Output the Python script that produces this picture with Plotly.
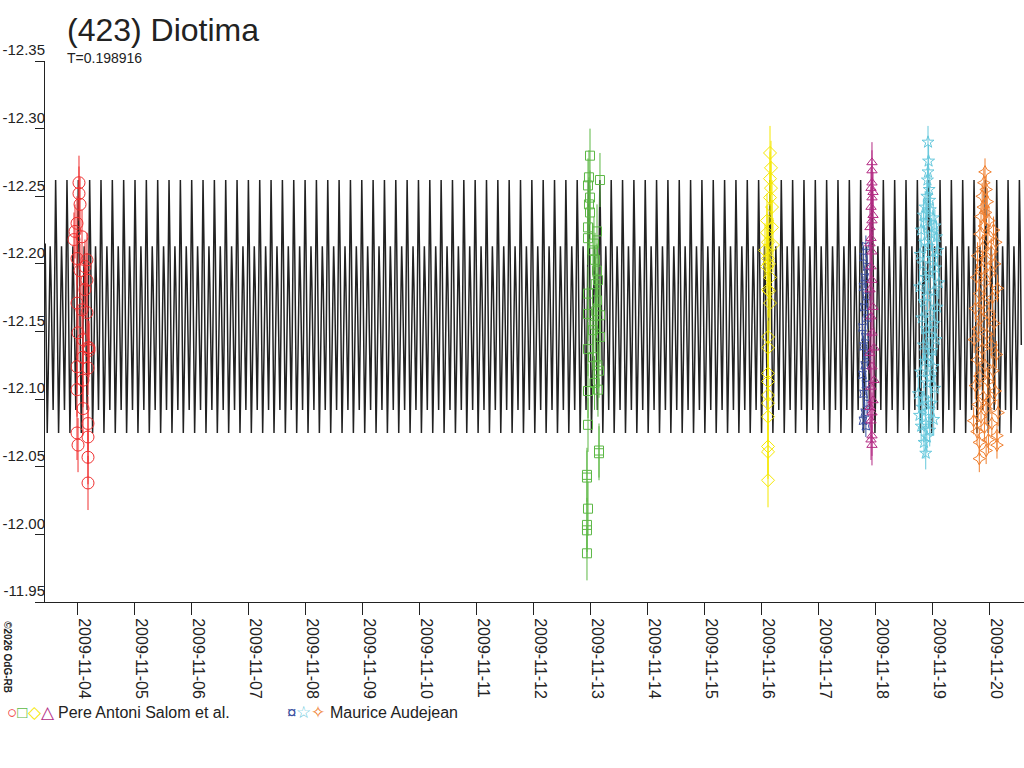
import numpy as np
import pandas as pd
import plotly.graph_objects as go

# lightcurve model: one rotation period, repeated over the run
PERIOD = 0.198916
EPOCH_DAY = 4.023  # day of Nov 2009 of a main maximum
CURVE_PHASE = [0.0, 0.08, 0.17, 0.26, 0.35, 0.44, 0.52, 0.60, 0.69, 0.78, 0.87, 0.94]
CURVE_MAG = [-12.262, -12.215, -12.140, -12.075, -12.120, -12.190,
             -12.213, -12.185, -12.120, -12.092, -12.150, -12.210]
CURVE_START, CURVE_END = 3.44, 20.57

# observations, time as day of November 2009
red_t = [4.035, 4.035, 4.053, 4.0, 3.965, 4.088, 3.947, 4.0, 4.175, 4.14, 4.053, 4.175, 4.14,
         4.0, 4.088, 4.175, 4.018, 4.105, 4.193, 4.105, 4.0, 4.193, 4.105, 4.0, 4.105, 4.193,
         4.0, 4.193, 4.018, 4.193, 4.193, 4.21, 4.21]
red_m = [-12.260, -12.252, -12.244, -12.230, -12.224, -12.220, -12.218, -12.204, -12.203,
         -12.198, -12.195, -12.188, -12.181, -12.171, -12.166, -12.164, -12.149, -12.144,
         -12.138, -12.131, -12.124, -12.123, -12.114, -12.107, -12.093, -12.082, -12.075,
         -12.072, -12.066, -12.057, -12.038, -12.138, -12.136]

green_t = [13.0, 12.982, 13.175, 12.965, 13.0, 12.982, 13.0, 12.965, 13.123, 12.965, 13.053,
           13.088, 13.123, 13.14, 12.965, 13.123, 13.175, 12.965, 13.053, 13.175, 12.965,
           13.053, 13.158, 12.965, 13.14, 12.965, 13.158, 13.158, 12.947, 12.947, 12.965,
           12.947, 12.947, 12.947, 13.07, 13.1, 13.11, 13.09, 13.13, 13.08]
green_m = [-12.280, -12.264, -12.262, -12.258, -12.249, -12.244, -12.238, -12.227, -12.224,
           -12.219, -12.210, -12.203, -12.195, -12.188, -12.178, -12.173, -12.162, -12.163,
           -12.151, -12.146, -12.137, -12.131, -12.121, -12.106, -12.107, -12.081, -12.062,
           -12.060, -12.044, -12.042, -12.019, -12.007, -12.003, -11.986, -12.215, -12.185,
           -12.165, -12.155, -12.125, -12.112]

yellow_t = [16.158, 16.175, 16.158, 16.175, 16.158, 16.193, 16.105, 16.193, 16.105, 16.123,
            16.21, 16.07, 16.123, 16.105, 16.158, 16.123, 16.158, 16.123, 16.123, 16.123,
            16.123, 16.123, 16.123, 16.123, 16.123, 16.123, 16.123, 16.14, 16.14]
yellow_m = [-12.282, -12.271, -12.263, -12.256, -12.249, -12.242, -12.232, -12.227, -12.223,
            -12.216, -12.214, -12.210, -12.204, -12.198, -12.190, -12.181, -12.171, -12.146,
            -12.138, -12.119, -12.113, -12.103, -12.097, -12.087, -12.065, -12.061, -12.040,
            -12.200, -12.180]

purple_t = [17.947, 17.947, 17.947, 17.93, 17.965, 17.947, 17.93, 17.965, 17.947, 17.912,
            17.93, 17.912, 17.947, 17.93, 17.947, 17.912, 17.965, 17.93, 17.947, 17.982,
            17.912, 17.947, 17.982, 17.93, 17.965, 17.912, 17.947, 17.93, 17.947, 17.93,
            17.947]
purple_m = [-12.275, -12.269, -12.260, -12.256, -12.253, -12.249, -12.242, -12.236, -12.232,
            -12.227, -12.219, -12.215, -12.209, -12.198, -12.188, -12.181, -12.168, -12.161,
            -12.149, -12.138, -12.134, -12.124, -12.114, -12.109, -12.099, -12.094, -12.090,
            -12.084, -12.073, -12.070, -12.066]

navy_t = [17.84, 17.80, 17.86, 17.82, 17.79, 17.85, 17.81, 17.87, 17.78, 17.83, 17.80, 17.86,
          17.82, 17.78, 17.84, 17.80, 17.86, 17.82, 17.79, 17.84]
navy_m = [-12.213, -12.205, -12.198, -12.190, -12.183, -12.176, -12.168, -12.160, -12.153,
          -12.146, -12.139, -12.132, -12.125, -12.118, -12.111, -12.104, -12.097, -12.090,
          -12.084, -12.080]

cyan_t = [18.93, 18.94, 18.93, 18.92, 18.95, 18.91, 18.96, 18.88, 18.97, 18.85, 19.02, 18.90,
          19.05, 18.81, 18.99, 19.08, 18.87, 18.94, 19.10, 18.79, 19.01, 18.84, 19.06, 18.96,
          18.89, 19.12, 18.78, 19.03, 18.92, 18.86, 19.09, 18.98, 18.82, 19.04, 18.90, 18.95,
          19.07, 18.85, 19.00, 18.93, 18.88, 19.02, 18.80, 18.97, 18.91, 19.05, 18.76, 18.86,
          18.99, 18.83, 18.94, 18.78, 19.03, 18.89, 18.81, 18.96, 18.91, 18.86, 18.89]
cyan_m = [-12.290, -12.276, -12.268, -12.262, -12.255, -12.250, -12.247, -12.242, -12.240,
          -12.236, -12.234, -12.231, -12.228, -12.225, -12.222, -12.220, -12.216, -12.213,
          -12.210, -12.207, -12.204, -12.200, -12.197, -12.193, -12.190, -12.186, -12.183,
          -12.180, -12.176, -12.172, -12.168, -12.164, -12.160, -12.156, -12.152, -12.148,
          -12.144, -12.140, -12.136, -12.132, -12.128, -12.124, -12.120, -12.116, -12.112,
          -12.108, -12.104, -12.100, -12.097, -12.094, -12.091, -12.088, -12.085, -12.082,
          -12.080, -12.077, -12.072, -12.068, -12.060]

orange_t = [19.93, 19.91, 19.95, 19.88, 19.97, 19.90, 19.94, 19.86, 20.00, 19.92, 20.08, 19.84,
            19.98, 20.12, 19.89, 20.04, 19.80, 19.95, 20.10, 19.87, 20.02, 19.78, 19.93, 20.15,
            19.83, 20.06, 19.90, 19.76, 20.00, 19.86, 20.09, 19.81, 19.96, 19.74, 20.04, 19.88,
            20.13, 19.79, 19.93, 20.07, 19.84, 19.98, 19.76, 20.11, 19.90, 20.02, 19.81, 19.95,
            20.16, 19.86, 19.73, 20.05, 19.92, 19.79, 20.14, 19.99, 19.83, 20.14, 19.95, 19.83]
orange_m = [-12.268, -12.260, -12.255, -12.250, -12.246, -12.242, -12.238, -12.235, -12.232,
            -12.228, -12.225, -12.222, -12.219, -12.216, -12.212, -12.209, -12.206, -12.203,
            -12.200, -12.196, -12.193, -12.190, -12.186, -12.182, -12.178, -12.175, -12.171,
            -12.167, -12.163, -12.160, -12.156, -12.152, -12.148, -12.144, -12.140, -12.137,
            -12.133, -12.129, -12.125, -12.121, -12.117, -12.113, -12.110, -12.106, -12.102,
            -12.099, -12.096, -12.093, -12.090, -12.087, -12.084, -12.082, -12.079, -12.076,
            -12.073, -12.070, -12.068, -12.066, -12.062, -12.056]

tick_days = list(range(4, 21))
y_ticks = [-12.35, -12.30, -12.25, -12.20, -12.15, -12.10, -12.05, -12.00, -11.95]
y_labels = ["-12.35", "-12.30", "-12.25", "-12.20", "-12.15", "-12.10", "-12.05", "-12.00", "-11.95"]


def to_time(days):
    return pd.Timestamp("2009-11-01") + pd.to_timedelta(np.asarray(days, dtype=float) - 1, unit="D")


def one_time(day):
    return pd.Timestamp("2009-11-01") + pd.Timedelta(days=day - 1)


def main():
    # repeat the one-period shape over the whole run
    n_start = int(np.floor((CURVE_START - EPOCH_DAY) / PERIOD))
    n_end = int(np.ceil((CURVE_END - EPOCH_DAY) / PERIOD))
    ct, cm = [], []
    for k in range(n_start, n_end + 1):
        for ph, m in zip(CURVE_PHASE, CURVE_MAG):
            t = EPOCH_DAY + (k + ph) * PERIOD
            if CURVE_START <= t <= CURVE_END:
                ct.append(t)
                cm.append(m)

    fig = go.Figure()
    fig.add_trace(go.Scatter(x=to_time(ct), y=cm, mode="lines",
                             line=dict(color="#222222", width=1.5), hoverinfo="skip"))

    sessions = [
        (red_t, red_m, "circle-open", "#f03030", 12, 0.02),
        (green_t, green_m, "square-open", "#5cb845", 9, 0.02),
        (yellow_t, yellow_m, "diamond-open", "#f5e800", 10, 0.02),
        (navy_t, navy_m, "star-square-open", "#3a4fa0", 7, 0.008),
        (purple_t, purple_m, "triangle-up-open", "#b42c84", 9, 0.015),
        (cyan_t, cyan_m, "star-open", "#66c8dc", 9, 0.012),
        (orange_t, orange_m, "star-diamond-open", "#f08030", 9, 0.01),
    ]
    for t, m, sym, col, size, err in sessions:
        fig.add_trace(go.Scatter(
            x=to_time(t), y=m, mode="markers",
            marker=dict(symbol=sym, color=col, size=size, line=dict(width=1, color=col)),
            error_y=dict(type="constant", value=err, color=col, thickness=1, width=0),
        ))

    fig.update_layout(
        width=1024, height=768,
        margin=dict(l=45, r=0, t=61, b=166),
        paper_bgcolor="white", plot_bgcolor="white",
        showlegend=False,
        font=dict(family="Liberation Sans, Arial, sans-serif", color="#222222", size=16),
    )
    fig.update_xaxes(
        range=[one_time(3.4386), one_time(20.614)],
        tickvals=to_time(tick_days), tickformat="%Y-%m-%d", tickangle=90,
        ticks="outside", ticklen=12, tickcolor="#222222",
        ticklabelshift=7, ticklabelstandoff=0,
        showline=True, linecolor="#222222", linewidth=1,
        showgrid=False, zeroline=False, automargin=False,
    )
    fig.update_yaxes(
        range=[-11.95, -12.35], tickvals=y_ticks, ticktext=y_labels,
        ticks="outside", ticklen=9, tickcolor="#222222", tickfont=dict(size=15),
        ticklabelposition="outside top", ticklabelstandoff=-4,
        showline=True, linecolor="#222222", linewidth=1,
        showgrid=False, zeroline=False, automargin=False,
    )

    fig.add_annotation(text="(423) Diotima", xref="paper", yref="paper",
                       x=0.0204, y=1.057, xanchor="left", yanchor="middle",
                       showarrow=False, font=dict(size=32))
    fig.add_annotation(text="T=0.198916", xref="paper", yref="paper",
                       x=0.0204, y=1.0055, xanchor="left", yanchor="middle",
                       showarrow=False, font=dict(size=14))
    fig.add_annotation(
        text="<span style='color:#f03030'>○</span><span style='color:#5cb845'>□</span>"
             "<span style='color:#f5e800'>◇</span><span style='color:#b42c84'>△</span>"
             "<span style='font-size:16px'> Pere Antoni Salom et al.</span>",
        xref="paper", yref="paper", x=-0.041, y=-0.205, xanchor="left", yanchor="middle",
        showarrow=False, font=dict(size=17))
    fig.add_annotation(
        text="<span style='color:#3a4fa0'>¤</span><span style='color:#66c8dc'>☆</span>"
             "<span style='color:#f08030'>✧</span>"
             "<span style='font-size:16px'> Maurice Audejean</span>",
        xref="paper", yref="paper", x=0.245, y=-0.205, xanchor="left", yanchor="middle",
        showarrow=False, font=dict(size=17))
    fig.add_annotation(text="<b>©2026 OdG-RB</b>", xref="paper", yref="paper",
                       x=-0.0378, y=-0.102, xanchor="center", yanchor="middle",
                       textangle=90, showarrow=False, font=dict(size=10))

    # drop the page's default body margin so the figure sits at the window corner
    fig.write_html("out.html", config={"displayModeBar": False},
                   post_script="document.body.style.margin='0';")


if __name__ == "__main__":
    main()
